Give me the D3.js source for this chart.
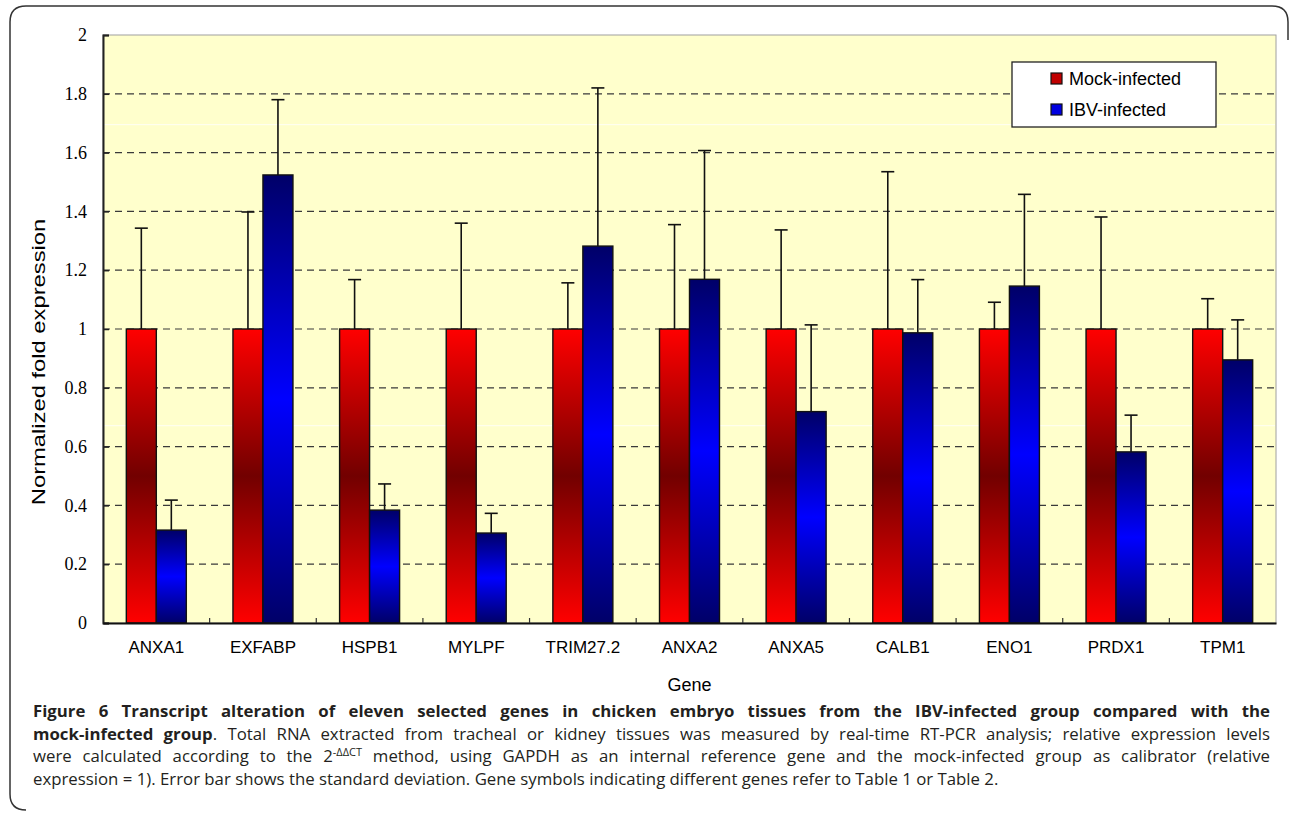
<!DOCTYPE html>
<meta charset="utf-8">
<style>
	body { margin: 0; background: #fff; }
	svg { display: block; }
	.tick-y { font-family: "Liberation Serif", serif; font-size: 18px; fill: #000; }
	.tick-x { font-family: "Liberation Sans", Arial, sans-serif; font-size: 17px; fill: #000; }
	.axis-title { font-family: "Liberation Sans", Arial, sans-serif; font-size: 18px; fill: #000; }
	.legend-text { font-family: "Liberation Sans", Arial, sans-serif; font-size: 18px; fill: #000; }
	.caption { font-family: "Open Sans", sans-serif; font-size: 16.8px; fill: #231f20; }
</style>
<body>
<svg id="chart"></svg>
<script src="https://cdnjs.cloudflare.com/ajax/libs/d3/7.8.5/d3.min.js"></script>
<script>
	// data
	var genes = ["ANXA1", "EXFABP", "HSPB1", "MYLPF", "TRIM27.2", "ANXA2", "ANXA5", "CALB1", "ENO1", "PRDX1", "TPM1"];
	var mockValues = [1, 1, 1, 1, 1, 1, 1, 1, 1, 1, 1];
	var mockSd = [0.343, 0.398, 0.168, 0.36, 0.157, 0.355, 0.337, 0.535, 0.091, 0.381, 0.103];
	var ibvValues = [0.316, 1.524, 0.384, 0.306, 1.282, 1.169, 0.719, 0.987, 1.146, 0.582, 0.895];
	var ibvSd = [0.102, 0.256, 0.089, 0.067, 0.538, 0.438, 0.295, 0.181, 0.312, 0.125, 0.136];
	var yTicks = [0, 0.2, 0.4, 0.6, 0.8, 1, 1.2, 1.4, 1.6, 1.8, 2];
	var seriesNames = ["Mock-infected", "IBV-infected"];

	(function () {
	var W = 1290, H = 818;
	var pLeft = 103, pRight = 1276, pTop = 35, pBottom = 623;

	var svg = d3.select("#chart").attr("width", W).attr("height", H);

	// gradients
	var defs = svg.append("defs");
	var gRed = defs.append("linearGradient").attr("id", "gradMock").attr("x1", 0).attr("y1", 0).attr("x2", 0).attr("y2", 1);
	gRed.append("stop").attr("offset", "0%").attr("stop-color", "#ff0000");
	gRed.append("stop").attr("offset", "50%").attr("stop-color", "#720000");
	gRed.append("stop").attr("offset", "100%").attr("stop-color", "#ff0000");
	var gBlue = defs.append("linearGradient").attr("id", "gradIbv").attr("x1", 0).attr("y1", 0).attr("x2", 0).attr("y2", 1);
	gBlue.append("stop").attr("offset", "0%").attr("stop-color", "#000068");
	gBlue.append("stop").attr("offset", "50%").attr("stop-color", "#0000ff");
	gBlue.append("stop").attr("offset", "100%").attr("stop-color", "#000068");

	// frame around the figure
	svg.append("path")
		.attr("d", "M26,810 Q10,810 10,794 L10,22 Q10,6 26,6 L1272,6 Q1288,6 1288,22 L1288,40")
		.attr("fill", "none").attr("stroke", "#333").attr("stroke-width", 1.5);

	var x = d3.scaleBand().domain(genes).range([pLeft, pRight]);
	var x1 = d3.scaleBand().domain(["mock", "ibv"]).range([x.bandwidth() / 2 - 30, x.bandwidth() / 2 + 30]);
	var y = d3.scaleLinear().domain([0, 2]).range([pBottom, pTop]);

	// plot background
	svg.append("rect").attr("x", pLeft).attr("y", pTop).attr("width", pRight - pLeft).attr("height", pBottom - pTop)
		.attr("fill", "#ffffcc").attr("stroke", "#a0a0a0").attr("stroke-width", 1);

	// faint white streaks present in the scan
	svg.selectAll(".streak").data([0.671, 1.695]).enter().append("line")
		.attr("x1", pLeft + 1).attr("x2", pRight - 1)
		.attr("y1", function (d) { return y(d); }).attr("y2", function (d) { return y(d); })
		.attr("stroke", "#fff").attr("stroke-width", 1).attr("opacity", 0.8);

	// dashed grid
	svg.selectAll(".grid").data(yTicks.filter(function (d) { return d > 0 && d < 2; })).enter().append("line")
		.attr("x1", pLeft).attr("x2", pRight)
		.attr("y1", function (d) { return y(d); }).attr("y2", function (d) { return y(d); })
		.attr("stroke", "#3a3a3a").attr("stroke-width", 1.2).attr("stroke-dasharray", "7,5");

	// y axis
	var yAxis = svg.append("g").attr("transform", "translate(" + pLeft + ",0)")
		.call(d3.axisLeft(y).tickValues(yTicks).tickSize(-6).tickPadding(16).tickFormat(function (d) { return d; }));
	yAxis.select(".domain").attr("stroke", "#222").attr("stroke-width", 2);
	yAxis.selectAll(".tick line").attr("stroke", "#222").attr("stroke-width", 1.5);
	yAxis.selectAll(".tick text").attr("class", "tick-y").attr("font-family", null).attr("font-size", null);

	// bars
	var groups = svg.selectAll(".gene").data(genes).enter().append("g")
		.attr("transform", function (d) { return "translate(" + x(d) + ",0)"; });

	function drawSeries(key, values, sd, grad) {
		var cx = x1(key) + x1.bandwidth() / 2;
		groups.append("line")
			.attr("x1", cx).attr("x2", cx)
			.attr("y1", function (d, i) { return y(values[i]); })
			.attr("y2", function (d, i) { return y(values[i] + sd[i]); })
			.attr("stroke", "#111").attr("stroke-width", 1.6);
		groups.append("line")
			.attr("x1", cx - 6.5).attr("x2", cx + 6.5)
			.attr("y1", function (d, i) { return y(values[i] + sd[i]); })
			.attr("y2", function (d, i) { return y(values[i] + sd[i]); })
			.attr("stroke", "#111").attr("stroke-width", 1.6);
		groups.append("rect")
			.attr("x", x1(key))
			.attr("width", x1.bandwidth())
			.attr("y", function (d, i) { return y(values[i]); })
			.attr("height", function (d, i) { return y(0) - y(values[i]); })
			.attr("fill", "url(#" + grad + ")")
			.attr("stroke", "#111").attr("stroke-width", 1.4);
	}
	drawSeries("mock", mockValues, mockSd, "gradMock");
	drawSeries("ibv", ibvValues, ibvSd, "gradIbv");

	// x axis
	var xAxis = svg.append("g").attr("transform", "translate(0," + pBottom + ")")
		.call(d3.axisBottom(x).tickSize(0).tickPadding(18));
	xAxis.select(".domain").attr("stroke", "#111").attr("stroke-width", 2);
	xAxis.selectAll(".tick text").attr("class", "tick-x").attr("font-family", null).attr("font-size", null);
	svg.append("g").selectAll("line").data(genes.slice(1)).enter().append("line")
		.attr("x1", function (d) { return x(d); }).attr("x2", function (d) { return x(d); })
		.attr("y1", pBottom).attr("y2", pBottom - 5)
		.attr("stroke", "#333").attr("stroke-width", 1.2);

	// axis titles (the scanned chart is stretched vertically, so the rotated title is long)
	svg.append("text").attr("class", "axis-title")
		.attr("transform", "translate(45,362) rotate(-90) scale(1.32,1)")
		.attr("text-anchor", "middle")
		.text("Normalized fold expression");
	svg.append("text").attr("class", "axis-title")
		.attr("x", (pLeft + pRight) / 2).attr("y", 691).attr("text-anchor", "middle").text("Gene");

	// legend
	var lg = svg.append("g").attr("transform", "translate(1012,62)");
	lg.append("rect").attr("width", 204).attr("height", 65).attr("fill", "#fff").attr("stroke", "#222").attr("stroke-width", 1.3);
	var legFill = ["#c00000", "#0000e0"];
	seriesNames.forEach(function (name, i) {
		lg.append("rect").attr("x", 39).attr("y", 11 + i * 31).attr("width", 11).attr("height", 11)
			.attr("fill", legFill[i]).attr("stroke", "#111").attr("stroke-width", 1.2);
		lg.append("text").attr("class", "legend-text").attr("x", 57).attr("y", 23 + i * 31).text(name);
	});

	// caption
	var capLines = [
		{ y: 717, justify: true, parts: [{ t: "Figure 6 Transcript alteration of eleven selected genes in chicken embryo tissues from the IBV-infected group compared with the", b: true }] },
		{ y: 740, justify: true, parts: [{ t: "mock-infected group", b: true }, { t: ". Total RNA extracted from tracheal or kidney tissues was measured by real-time RT-PCR analysis; relative expression levels" }] },
		{ y: 762, justify: true, parts: [{ t: "were calculated according to the 2" }, { t: "-\u0394\u0394CT", sup: true }, { t: " method, using GAPDH as an internal reference gene and the mock-infected group as calibrator (relative", after: true }] },
		{ y: 785, justify: false, parts: [{ t: "expression = 1). Error bar shows the standard deviation. Gene symbols indicating different genes refer to Table 1 or Table 2." }] }
	];
	var capLeft = 33, capRight = 1270;
	capLines.forEach(function (ln) {
		var t = svg.append("text").attr("class", "caption").attr("x", capLeft).attr("y", ln.y).attr("xml:space", "preserve");
		ln.parts.forEach(function (p) {
			var s = t.append("tspan").text(p.t);
			if (p.b) s.attr("font-weight", "bold");
			if (p.sup) s.attr("font-size", "11px").attr("dy", -6);
			if (p.after) s.attr("dy", 6);
		});
		if (ln.justify) {
			var len = t.node().getComputedTextLength();
			var spaces = ln.parts.map(function (p) { return p.t; }).join("").split(" ").length - 1;
			t.attr("word-spacing", ((capRight - capLeft) - len) / spaces);
		}
	});
	})();
</script>
</body>
